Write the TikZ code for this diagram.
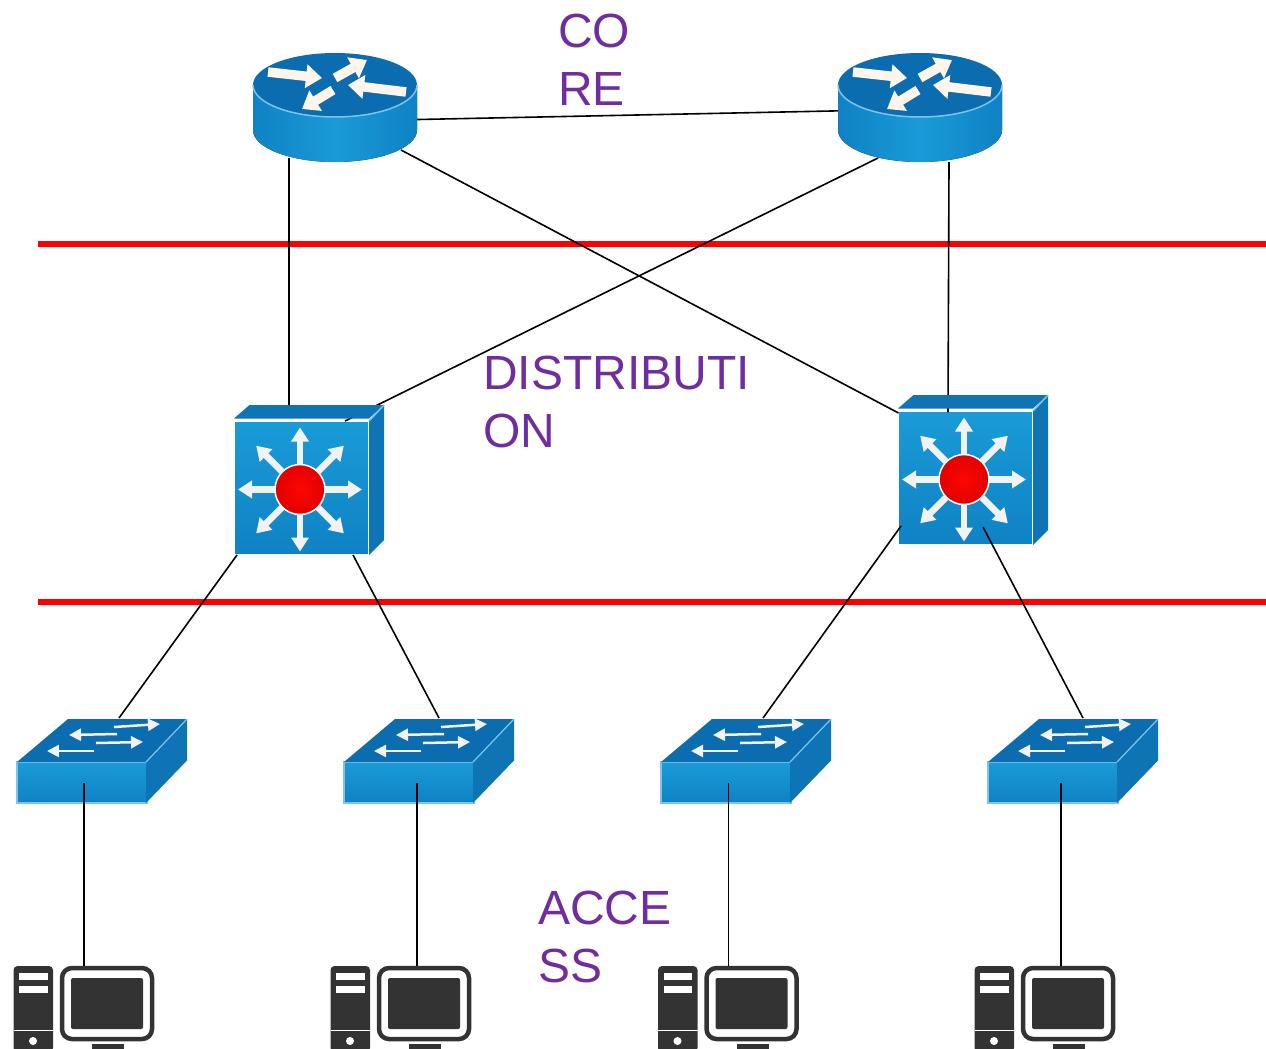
\documentclass[tikz,border=0pt]{standalone}
\usepackage{fontspec}
\setmainfont{Liberation Sans}
\usetikzlibrary{arrows.meta}
\definecolor{labelpurple}{HTML}{6F2DA0}
\definecolor{ciscotop}{HTML}{0B6CB0}
\definecolor{ciscoside}{HTML}{0F74B4}
\definecolor{ciscolight}{HTML}{1A9BD8}
\definecolor{ciscomid}{HTML}{0F82C4}
\definecolor{ciscoedge}{HTML}{7CC4E8}
\definecolor{pcdark}{HTML}{333333}
\tikzset{
    link/.style={black, line width=0.032cm},
    redline/.style={red, line width=0.12cm},
    layerlabel/.style={labelpurple, align=left, anchor=north west, inner sep=0pt,
        font=\fontsize{27.3}{33}\selectfont},
    iconbox/.style={inner sep=0pt, outer sep=0pt},
    distface/.style={iconbox, draw=white, line width=0.03cm, minimum width=2.7cm, minimum height=2.68cm,
        top color=ciscolight, bottom color=ciscomid},
    accessface/.style={iconbox, draw=ciscoedge, line width=0.025cm, minimum width=2.6cm, minimum height=0.82cm,
        top color=ciscolight, bottom color=ciscomid},
    whitearrow/.style={-{Triangle[length=0.28cm,width=0.34cm]}, white!95!black, line width=0.13cm},
    flowarrow/.style={-{Triangle[length=0.24cm,width=0.24cm]}, white!95!black, line width=0.05cm},
    routerarrow/.style={-{Triangle[length=0.32cm,width=0.46cm]}, white!92!orange, line width=0.19cm},
    router/.pic={
        \fill[left color=ciscomid, right color=ciscomid, middle color=ciscolight]
            (-82,-23) -- (-82,22) arc[start angle=180, end angle=0, x radius=82, y radius=32]
            -- (82,-23) -- cycle;
        \fill[ciscotop] (0,-23) ellipse[x radius=82, y radius=32];
        \draw[ciscoedge, line width=0.03cm] (-82,-23) arc[start angle=180, end angle=0, x radius=82, y radius=32];
        \draw[routerarrow] (-67,-36) -- (-13,-30);
        \draw[routerarrow] (0,-30) -- (32,-48);
        \draw[routerarrow] (71,-16) -- (13,-23);
        \draw[routerarrow] (-2,-18) -- (-33,1);
    },
    layerthree/.pic={
        \fill[ciscoside] (-67.5,-69.5) -- (-52,-83) -- (82.5,-83) -- (67.5,-69.5) -- cycle;
        \fill[ciscoside] (67.5,-67) -- (82.5,-83) -- (82.5,52) -- (67.5,67) -- cycle;
        \draw[ciscoedge, line width=0.03cm] (67.5,-67) -- (82.5,-83);
        \foreach \dir in {0,45,...,315}{
            \draw[whitearrow] ([shift={(-1.5,1.5)}]\dir:20) -- ([shift={(-1.5,1.5)}]\dir:62);
        }
        \fill[inner color=red!95!orange, outer color=red!88!black, draw=white, line width=0.03cm] (-1.5,1.5) circle (25);
    },
    layertwo/.pic={
        \fill[ciscotop] (-65,-20.5) -- (-14,-63.5) -- (105,-63.5) -- (64,-20.5) -- cycle;
        \fill[ciscoside] (64,-20.5) -- (105,-63.5) -- (105,-22) -- (64,20.5) -- cycle;
        \draw[ciscoedge, line width=0.025cm] (64,-20.5) -- (105,-63.5);
        \draw[flowarrow] (32,-55.5) -- (78,-58.5);
        \draw[flowarrow] (35,-48.5) -- (-13,-47.5);
        \draw[flowarrow] (14,-39.5) -- (61,-40.5);
        \draw[flowarrow] (12,-31.5) -- (-35,-31.5);
    },
    desktop/.pic={
        \fill[pcdark, rounded corners=0.08cm] (-70.5,-41) rectangle (-31,45);
        \fill[white] (-65,-34) rectangle (-36.5,-27);
        \fill[white] (-65,-21.5) rectangle (-36.5,-14);
        \fill[white] (-70.5,22.5) rectangle (-31,24);
        \fill[white] (-51,34) circle (4);
        \draw[pcdark, line width=0.09cm, fill=white, rounded corners=0.2cm] (-22,-39) rectangle (68,32);
        \fill[pcdark, rounded corners=0.04cm] (-13,-29) rectangle (59,22);
        \fill[pcdark] (8,37) rectangle (40,45);
    },
}
\begin{document}
\begin{tikzpicture}[x=0.02cm,y=-0.02cm]
        \useasboundingbox (0,0) rectangle (1266,1048);
        \clip (0,0) rectangle (1266,1048);

        % Layer borders
        \coordinate (upperstart) at (38,243.5);
        \coordinate (upperend) at (1266,243.5);
        \coordinate (lowerstart) at (38,602);
        \coordinate (lowerend) at (1266,602);
        \draw[redline] (upperstart)--(upperend);
        \draw[redline] (lowerstart)--(lowerend);

        % Core
        \node [iconbox, minimum width=3.28cm, minimum height=2.16cm] (coreleft) at (335,108){};
        \node [iconbox, minimum width=3.28cm, minimum height=2.16cm] (coreright) at (920,108){};

        % Distribution
        \node [distface] (distleft) at (301.5,488){};
        \node [distface] (distright) at (965.5,478){};

        % Core links
        \draw[link] (coreleft.-8)--(coreright.-178);
        \draw[link] ([shift={(-46,50)}]coreleft.center)--([shift={(-12.5,-83)}]distleft.center);
        \draw[link] ([shift={(66,42)}]coreleft.center)--([shift={(-67,-65)}]distright.center);
        \draw[link] ([shift={(-42,50)}]coreright.center)--([shift={(43.5,-67)}]distleft.center);
        \draw[link] ([shift={(29,54)}]coreright.center)--([shift={(-17.5,-66)}]distright.center);

        \pic at (coreleft.center) {router};
        \pic at (coreright.center) {router};
        \pic at (distleft.center) {layerthree};
        \pic at (distright.center) {layerthree};

        % Access
        \node [accessface] (accessa) at (82,782.5){};
        \node [accessface] (accessb) at (409,782.5){};
        \node [accessface] (accessc) at (726,782.5){};
        \node [accessface] (accessd) at (1053,782.5){};
        \pic at (accessa.center) {layertwo};
        \pic at (accessb.center) {layertwo};
        \pic at (accessc.center) {layertwo};
        \pic at (accessd.center) {layertwo};

        % Hosts
        \node [iconbox, minimum width=2.8cm, minimum height=1.64cm] (hosta) at (84,1007){};
        \node [iconbox, minimum width=2.8cm, minimum height=1.64cm] (hostb) at (401,1007){};
        \node [iconbox, minimum width=2.8cm, minimum height=1.64cm] (hostc) at (728.5,1007){};
        \node [iconbox, minimum width=2.8cm, minimum height=1.64cm] (hostd) at (1045,1007){};
        \pic at (hosta.center) {desktop};
        \pic at (hostb.center) {desktop};
        \pic at (hostc.center) {desktop};
        \pic at (hostd.center) {desktop};

        % Labels
        \node [layerlabel] (corelabel) at (558,14){CO\\RE};
        \node [layerlabel] (distlabel) at (483,356){DISTRIBUTI\\ON};
        \node [layerlabel] (accesslabel) at (538,891){ACCE\\SS};

        % Distribution links
        \draw[link] ([shift={(-64.5,67)}]distleft.center)--([shift={(37,-64.5)}]accessa.center);
        \draw[link] ([shift={(51.5,67)}]distleft.center)--([shift={(30,-64.5)}]accessb.center);
        \draw[link] ([shift={(-64.5,48)}]distright.center)--([shift={(37,-64.5)}]accessc.center);
        \draw[link] ([shift={(17.5,49)}]distright.center)--([shift={(30,-64.5)}]accessd.center);

        % Host links
        \draw[link] (hosta.north)--(hosta.north|-accessa.center);
        \draw[link] ([xshift=0.32cm]hostb.north)--([xshift=0.32cm]hostb.north|-accessb.center);
        \draw[link] (hostc.north)--(hostc.north|-accessc.center);
        \draw[link] ([xshift=0.32cm]hostd.north)--([xshift=0.32cm]hostd.north|-accessd.center);
\end{tikzpicture}
\end{document}
